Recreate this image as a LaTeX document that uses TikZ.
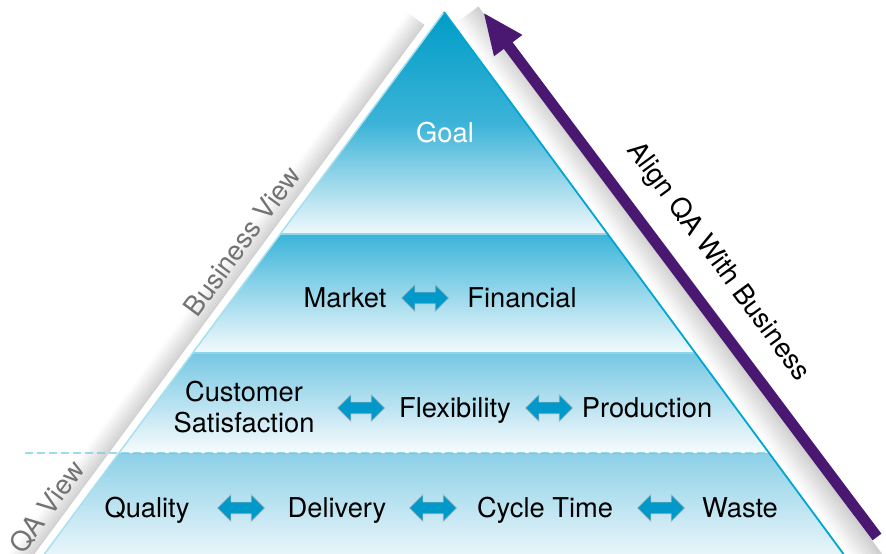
\documentclass[tikz,border=0pt]{standalone}
\usepackage{fontspec}
\setmainfont{TeX Gyre Heros}
\usetikzlibrary{arrows.meta,shapes.arrows,positioning,calc}
\definecolor{goalblue}{HTML}{009DC6}
\definecolor{goalmid}{HTML}{3CB3D8}
\definecolor{tierb}{HTML}{3BB4D9}
\definecolor{tierc}{HTML}{76C7E3}
\definecolor{tierd}{HTML}{8CD0E7}
\definecolor{edgecyan}{HTML}{00A6D0}
\definecolor{dblblue}{HTML}{0099CA}
\definecolor{alignpurple}{HTML}{4A1870}

\begin{document}
\begin{tikzpicture}[
  x=1pt,y=1pt,
  font=\fontsize{27.3}{31}\selectfont,
  lbl/.style={align=center,inner sep=0pt},
  word/.style={lbl,anchor=base},
  dblarr/.style={shape=double arrow,fill=dblblue,draw=gray!60,line width=0.6pt,
    minimum height=47pt,inner xsep=0pt,inner ysep=5.5pt,
    double arrow head extend=7.5pt,double arrow head indent=0pt},
  sepline/.style={draw=edgecyan!45,line width=1.5pt},
  viewlbl/.style={text=black!55,inner sep=0pt},
  arr/.style={-{Triangle[length=42pt,width=32pt]},line width=11pt,alignpurple}
]
\useasboundingbox (0,0) rectangle (886,554);

% pyramid corners and tier corners
\coordinate (apex) at (444,542);
\coordinate (bl) at (44.5,0);
\coordinate (br) at (843.5,0);
\foreach \n/\t in {a/0.4096,b/0.6292,c/0.8137}{
  \coordinate (l\n) at ($(apex)!\t!(bl)$);
  \coordinate (r\n) at ($(apex)!\t!(br)$);
}

% shadow bands along both slopes, built from thin strips
\begin{scope}[shift={(apex)},rotate=233.6]
  \foreach \i [evaluate=\i as \g using int(36-3.5*\i)] in {0,...,10}
    \fill[gray!\g] (22,-8-2*\i) rectangle (700,-10-2*\i);
\end{scope}
\begin{scope}[shift={(apex)},rotate=-53.6]
  \foreach \i [evaluate=\i as \g using int(3*\i)] in {0,...,13}
    \fill[gray!\g] (16,3+2*\i) rectangle (700,5+2*\i);
\end{scope}

% tiers
\shade[top color=goalblue,bottom color=white!94!goalblue,middle color=goalmid]
  (apex) -- (la) -- (ra) -- cycle;
\shade[top color=tierb,bottom color=white!94!tierb] (la) -- (lb) -- (rb) -- (ra) -- cycle;
\shade[top color=tierc,bottom color=white!94!tierc] (lb) -- (lc) -- (rc) -- (rb) -- cycle;
\shade[top color=tierd,bottom color=white!80!tierd] (lc) -- (bl) -- (br) -- (rc) -- cycle;

\draw[sepline] (la) -- (ra);
\draw[sepline] (lb) -- (rb);
\draw[edgecyan!35,line width=1.5pt] (apex) -- (bl);
\draw[edgecyan,line width=1.8pt] (apex) -- (br);

% QA / business split
\coordinate (dashstart) at (25,101);
\draw[edgecyan!60,line width=1.3pt,dash pattern=on 8pt off 4pt] (dashstart) -- (rc);

% tier texts
\node[word,text=white] (goal) at (445,411) {Goal};

\node[word] (market) at (345,246) {Market};
\node[word] (financial) at (522,246) {Financial};
\node[dblarr] (mf) at (425,256) {};

\node[lbl] (customer) at (244,147) {Customer\\Satisfaction};
\node[word] (flexibility) at (455,136) {Flexibility};
\node[word] (production) at (647,136) {Production};
\node[dblarr] (cf) at (361,146) {};
\node[dblarr] (fp) at (549,146) {};

\node[word] (quality) at (147,36) {Quality};
\node[word] (delivery) at (337,36) {Delivery};
\node[word] (cycle) at (545,36) {Cycle Time};
\node[word] (waste) at (740,36) {Waste};
\node[dblarr] (qd) at (241,46) {};
\node[dblarr] (dc) at (433,46) {};
\node[dblarr] (cw) at (661,46) {};

% side labels
\node[viewlbl,rotate=53.6] (business) at (242,313) {Business View};
\node[viewlbl,rotate=53.6] (qaview) at (47,47) {QA View};
\node[lbl,rotate=-53.6] (align) at (718,292) {Align QA With Business};

% purple arrow up the right slope
\coordinate (alignfoot) at (877,17);
\coordinate (aligntip) at (483,542);
\draw[arr] (alignfoot) -- (aligntip);
\end{tikzpicture}
\end{document}
